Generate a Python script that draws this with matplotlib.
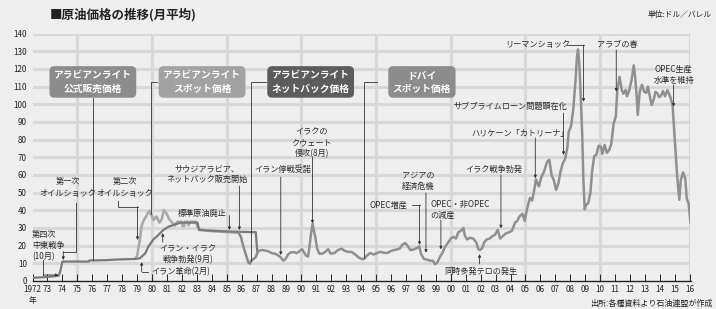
import matplotlib.pyplot as plt

plt.rcParams['font.family'] = ['Noto Sans CJK JP', 'DejaVu Sans']

# Arabian Light official selling price (dark line)
official_year = [1972.0, 1973.0, 1973.75, 1973.85, 1974.0, 1975.75, 1975.8, 1977.0, 1977.5,
                 1978.95, 1979.2, 1979.55, 1979.75, 1980.1, 1980.3, 1980.75, 1981.1, 1981.9,
                 1983.05, 1983.15, 1985.1, 1986.95, 1987.05]
official_price = [1.8, 2.3, 3.0, 5.1, 11.0, 11.0, 11.6, 11.8, 12.1,
                  12.5, 12.9, 15.7, 19.4, 23.6, 25.0, 28.8, 30.7, 33.0,
                  33.0, 28.8, 28.0, 27.6, 16.0]

# Arabian Light spot price
spot_year = [1978.9, 1979.0, 1979.1, 1979.2, 1979.3, 1979.45, 1979.6, 1979.8, 1979.95, 1980.1,
             1980.3, 1980.5, 1980.65, 1980.8, 1980.95, 1981.15, 1981.35, 1981.55, 1981.7, 1982.0,
             1982.05, 1982.15, 1982.2, 1982.4, 1982.45, 1982.55, 1982.95, 1983.05, 1983.2, 1983.9,
             1984.8, 1985.8]
spot_price = [12.9, 14.0, 19.0, 24.0, 31.0, 34.5, 36.5, 39.5, 37.5, 34.5,
              36.5, 33.0, 35.0, 40.0, 38.5, 35.0, 33.0, 31.5, 33.5, 33.5,
              31.0, 31.0, 33.5, 33.5, 31.5, 33.5, 33.5, 30.5, 29.2, 28.3,
              27.8, 27.3]

# Arabian Light netback price
netback_year = [1985.8, 1985.95, 1986.1, 1986.3, 1986.45, 1986.55, 1986.65, 1986.8, 1986.95, 1987.05]
netback_price = [27.3, 25.0, 20.0, 14.5, 10.5, 9.8, 11.5, 12.5, 13.5, 16.0]

# Dubai spot price
dubai_year = [1987.05, 1987.2, 1987.4, 1987.6, 1987.8, 1988.0, 1988.2, 1988.4, 1988.6, 1988.8,
              1988.95, 1989.1, 1989.3, 1989.5, 1989.7, 1989.9, 1990.05, 1990.3, 1990.45, 1990.55,
              1990.65, 1990.75, 1990.85, 1990.95, 1991.05, 1991.2, 1991.4, 1991.6, 1991.8, 1991.95,
              1992.2, 1992.45, 1992.7, 1992.9, 1993.1, 1993.35, 1993.6, 1993.85, 1994.05, 1994.2,
              1994.4, 1994.6, 1994.85, 1995.1, 1995.3, 1995.5, 1995.75, 1995.95, 1996.2, 1996.4,
              1996.6, 1996.75, 1996.95, 1997.1, 1997.3, 1997.5, 1997.7, 1997.9, 1998.0, 1998.2,
              1998.45, 1998.6, 1998.8, 1998.95, 1999.1, 1999.3, 1999.45, 1999.6, 1999.8, 2000.0,
              2000.2, 2000.35, 2000.5, 2000.7, 2000.85, 2000.95, 2001.1, 2001.3, 2001.5, 2001.7,
              2001.85, 2001.95, 2002.1, 2002.25, 2002.4, 2002.6, 2002.8, 2002.95, 2003.15, 2003.3,
              2003.5, 2003.7, 2003.9, 2004.1, 2004.3, 2004.45, 2004.6, 2004.8, 2004.95, 2005.1,
              2005.3, 2005.45, 2005.6, 2005.7, 2005.9, 2006.05, 2006.25, 2006.45, 2006.6, 2006.75,
              2006.9, 2007.05, 2007.2, 2007.35, 2007.5, 2007.65, 2007.8, 2007.9, 2008.05, 2008.2,
              2008.35, 2008.45, 2008.52, 2008.6, 2008.7, 2008.8, 2008.88, 2008.97, 2009.05, 2009.2,
              2009.35, 2009.45, 2009.6, 2009.75, 2009.9, 2010.05, 2010.15, 2010.3, 2010.45, 2010.6,
              2010.75, 2010.9, 2011.05, 2011.15, 2011.3, 2011.45, 2011.55, 2011.7, 2011.8, 2011.95,
              2012.1, 2012.25, 2012.35, 2012.45, 2012.52, 2012.65, 2012.8, 2012.95, 2013.1, 2013.2,
              2013.35, 2013.45, 2013.6, 2013.7, 2013.85, 2013.95, 2014.1, 2014.2, 2014.35, 2014.5,
              2014.6, 2014.7, 2014.85, 2015.0, 2015.15, 2015.3, 2015.4, 2015.55, 2015.7, 2015.8,
              2015.92, 2016.05]
dubai_price = [16.5, 17.2, 17.5, 17.2, 16.8, 15.8, 15.5, 14.8, 13.5, 11.5,
               12.5, 15.0, 16.2, 16.3, 15.8, 17.0, 18.0, 14.5, 13.8, 20.0,
               27.0, 32.5, 28.0, 24.0, 18.5, 15.5, 15.5, 16.5, 18.0, 15.5,
               15.8, 17.5, 18.3, 17.0, 16.5, 16.5, 15.0, 13.2, 12.4, 12.5,
               14.5, 15.8, 15.0, 16.0, 16.5, 16.0, 15.8, 16.8, 17.5, 17.8,
               18.5, 20.5, 21.5, 20.0, 17.5, 17.8, 18.5, 19.5, 15.5, 12.5,
               12.0, 11.5, 11.5, 9.5, 10.5, 14.0, 16.0, 19.0, 21.5, 24.0,
               25.0, 24.0, 27.5, 28.5, 30.0, 25.5, 23.5, 24.5, 24.0, 22.0,
               18.0, 17.5, 18.5, 22.0, 23.5, 24.0, 25.5, 26.0, 29.0, 24.0,
               25.5, 27.0, 27.5, 28.5, 33.0, 34.0, 36.5, 38.0, 34.0, 40.5,
               47.0, 45.5, 52.0, 57.5, 53.5, 58.5, 62.0, 67.5, 68.5, 60.0,
               57.0, 51.5, 55.0, 62.0, 66.5, 69.0, 75.0, 84.5, 87.5, 97.0,
               113.0, 127.0, 131.0, 124.0, 105.0, 83.0, 57.0, 40.5, 43.0, 44.0,
               50.0, 61.0, 70.5, 71.5, 76.5, 76.0, 72.0, 77.0, 72.5, 74.0,
               77.5, 89.0, 93.0, 108.0, 115.5, 108.0, 106.0, 108.0, 104.5, 108.0,
               113.5, 122.0, 115.0, 104.0, 94.0, 107.0, 111.0, 107.0, 106.5, 110.0,
               103.5, 99.5, 103.0, 107.0, 106.0, 104.0, 105.0, 107.5, 104.5, 108.0,
               106.0, 104.0, 99.5, 80.0, 60.0, 46.0, 57.0, 61.5, 58.0, 46.5,
               44.0, 33.0]

years = list(range(1972, 2017))
year_labels = ['1972'] + ['%02d' % (y % 100) for y in years[1:]]

bg = '#eeeeee'
fig = plt.figure(figsize=(7.16, 3.09), dpi=100, facecolor=bg)
ax = fig.add_axes([32.5 / 716, 28 / 309, 658 / 716, 247.5 / 309], facecolor=bg)
ax.set_xlim(1972, 2016.05)
ax.set_ylim(0, 140)

# grid
for v in range(10, 141, 10):
    ax.axhline(v, color='#d8d8d8', lw=2.2, zorder=0)
for yr in [1975, 1980, 1985, 1990, 1995, 2000, 2005, 2010, 2016]:
    ax.axvline(yr, color='#d8d8d8', lw=2.2, zorder=0)

# price lines
ax.plot(official_year, official_price, color='#7a7a7a', lw=1.6, zorder=3)
ax.plot(spot_year, spot_price, color='#aaaaaa', lw=1.9, zorder=2)
ax.plot(netback_year, netback_price, color='#8a8a8a', lw=1.8, zorder=3)
ax.plot(dubai_year, dubai_price, color='#909090', lw=1.8, zorder=3)

# axes styling
for s in ['top', 'right', 'left']:
    ax.spines[s].set_visible(False)
ax.spines['bottom'].set_color('#222222')
ax.spines['bottom'].set_linewidth(1.0)
ax.set_xticks(years)
ax.set_xticklabels(year_labels)
ax.set_yticks(range(0, 141, 10))
ax.tick_params(axis='x', direction='in', length=5, width=0.7, color='#222222',
               labelsize=5.8, pad=3, labelcolor='#222222')
ax.tick_params(axis='y', length=0, labelsize=5.8, pad=4, labelcolor='#222222')
ax.text(1972, -11.2, '年', fontsize=5.6, ha='center', va='center', color='#222222', clip_on=False)

# header / footer
fig.text(50 / 716, 1 - 15 / 309, '■原油価格の推移(月平均)', fontsize=9, fontweight='bold',
         ha='left', va='center', color='#222222')
fig.text(712 / 716, 1 - 15 / 309, '単位:ドル／バレル', fontsize=5.6, ha='right', va='center',
         color='#222222')
fig.text(712 / 716, 1 - 303 / 309, '出所:各種資料より石油連盟が作成', fontsize=5.8, ha='right',
         va='center', color='#222222')

# series label boxes
boxes = [
    ('アラビアンライト\n公式販売価格', 1976.04, '#8c8c8c'),
    ('アラビアンライト\nスポット価格', 1983.35, '#a2a2a2'),
    ('アラビアンライト\nネットバック価格', 1990.62, '#5c5c5c'),
    ('ドバイ\nスポット価格', 1998.07, '#8c8c8c'),
]
for label, bx, col in boxes:
    ax.text(bx, 112.6, label, ha='center', va='center', color='white', fontsize=7,
            fontweight='bold', linespacing=1.35, zorder=5,
            bbox=dict(boxstyle='round,pad=0.45,rounding_size=0.5', fc=col, ec='none'))

lc = '#333333'
llw = 0.6


def leader(xs, ys, arrow=True):
    if arrow:
        if len(xs) > 2:
            ax.plot(xs[:-1], ys[:-1], color=lc, lw=llw, zorder=4)
        ax.annotate('', xy=(xs[-1], ys[-1]), xytext=(xs[-2], ys[-2]),
                    arrowprops=dict(arrowstyle='-|>', color=lc, lw=llw, mutation_scale=4,
                                    shrinkA=0, shrinkB=0), zorder=4)
    else:
        ax.plot(xs, ys, color=lc, lw=llw, zorder=4)


# box leaders
leader([1976.07, 1976.07], [103.4, 12.0], arrow=False)
leader([1980.36, 1979.95, 1979.95], [112.7, 112.7, 38.0], arrow=False)
leader([1987.64, 1986.65, 1986.65], [112.7, 112.7, 11.5], arrow=False)
leader([1995.05, 1994.16, 1994.16], [112.7, 112.7, 13.0], arrow=False)

fs = 5.9
tc = '#2a2a2a'


def note(x, y, s, ha='center'):
    ax.text(x, y, s, fontsize=fs, color=tc, ha=ha, va='center', linespacing=1.3,
            multialignment='center' if ha == 'center' else 'left', zorder=5)


note(1974.38, 52.9, '第一次\nオイルショック')
leader([1974.91, 1974.91, 1974.06, 1974.06], [44.0, 16.6, 16.6, 11.9])

note(1978.2, 52.9, '第二次\nオイルショック')
leader([1977.75, 1977.75, 1979.03, 1979.03], [45.5, 42.0, 42.0, 23.2])

note(1971.95, 19.8, '第四次\n中東戦争\n(10月)', ha='left')
leader([1972.72, 1972.72, 1973.74], [11.6, 3.4, 3.4])

note(1979.98, 5.3, 'イラン革命(2月)', ha='left')
leader([1979.76, 1979.31, 1979.31], [5.3, 5.3, 10.7])

note(1982.38, 15.2, 'イラン・イラク\n戦争勃発(9月)')
leader([1980.72, 1980.72], [22.0, 27.1])

note(1983.39, 38.3, '標準原油廃止')
leader([1985.18, 1985.18], [37.0, 28.8])

note(1983.69, 60.4, 'サウジアラビア、\nネットバック販売開始')
leader([1985.85, 1985.85], [53.7, 28.8])

note(1988.74, 62.8, 'イラン停戦受諾')
leader([1988.62, 1988.62], [58.8, 14.7])

note(1990.7, 78.2, 'イラクの\nクウェート\n侵攻(8月)')
leader([1990.74, 1990.74], [70.1, 32.6])

note(1995.83, 43.0, 'OPEC増産')
leader([1997.42, 1997.91, 1997.91], [43.0, 43.0, 20.4])

note(1997.84, 56.9, 'アジアの\n経済危機')
leader([1998.34, 1998.34], [49.8, 16.0])

note(1998.62, 40.1, 'OPEC・非OPEC\nの減産', ha='left')
leader([1999.34, 1999.34], [34.5, 17.9])

note(2002.0, 5.7, '同時多発テロの発生')
leader([2001.93, 2001.93], [9.6, 15.2])

note(2002.91, 63.2, 'イラク戦争勃発')
leader([2003.36, 2003.36], [60.0, 29.8])

note(2004.65, 83.5, 'ハリケーン「カトリーナ」')
leader([2005.66, 2005.66], [80.9, 58.1])

note(2003.98, 98.6, 'サブプライムローン問題顕在化')
leader([2007.55, 2007.55], [95.0, 71.3])

note(2005.82, 133.5, 'リーマンショック')
leader([2007.8, 2008.89, 2008.89], [133.5, 133.5, 101.4])

note(2011.13, 133.5, 'アラブの春')
leader([2011.08, 2011.08], [130.7, 107.1])

note(2014.93, 116.7, 'OPEC生産\n水準を維持')
leader([2014.92, 2014.92], [110.9, 98.6])

fig.savefig('out.png', dpi=100, facecolor=bg)
